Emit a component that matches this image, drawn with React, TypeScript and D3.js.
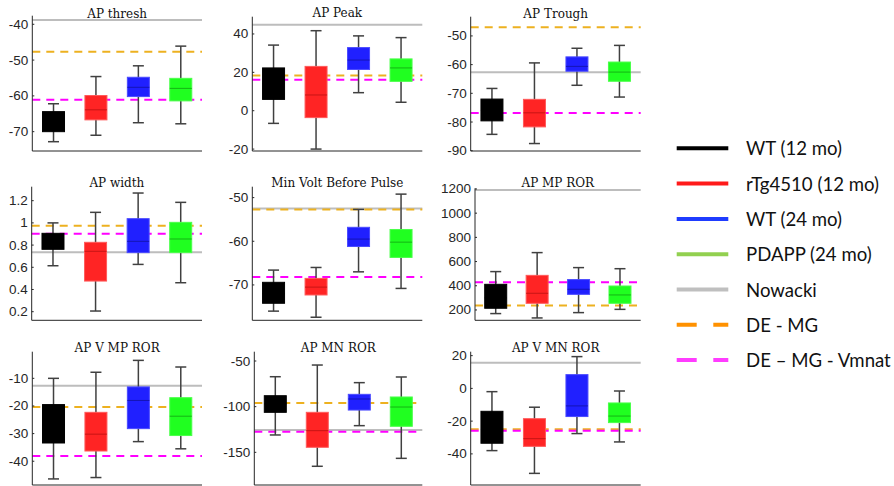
import React from "react";
import * as d3 from "d3";

// ---------- DATA ----------
const groups = ["WT (12 mo)", "rTg4510 (12 mo)", "WT (24 mo)", "PDAPP (24 mo)"];
const panelTitles = [
  "AP thresh", "AP Peak", "AP Trough",
  "AP width", "Min Volt Before Pulse", "AP MP ROR",
  "AP V MP ROR", "AP MN ROR", "AP V MN ROR",
];
// per panel, per group: whisker low, q1, median, q3, whisker high
const whiskerLow = [
  [-72.8, -71, -67.5, -67.8],
  [-6.6, -20, 9.4, 4.4],
  [-84.3, -87.5, -67.2, -71.3],
  [0.614, 0.206, 0.626, 0.461],
  [-76.0, -77.4, -67.0, -70.8],
  [170, 134, 178, 205],
  [-46.4, -45.9, -32.9, -35.5],
  [-131, -165.3, -120.8, -156.6],
  [-38, -51.9, -27.6, -32.7],
];
const q1 = [
  [-70, -66.7, -60.2, -61.4],
  [5.9, -3.6, 21.5, 15.3],
  [-79.6, -81.7, -62.3, -65.8],
  [0.762, 0.476, 0.732, 0.732],
  [-74.2, -72.3, -61.2, -63.7],
  [214, 255, 329, 255],
  [-33.4, -36.3, -28.2, -30.7],
  [-106.2, -144.5, -103.7, -121.5],
  [-33.5, -35.4, -17.2, -20.9],
];
const medians = [
  [-67, -63.9, -57.6, -57.9],
  [14, 8.2, 26.4, 22.3],
  [-76, -76.8, -60.6, -62.6],
  [0.82, 0.744, 0.834, 0.855],
  [-72, -70.5, -59.5, -60.2],
  [300, 338, 371, 324],
  [-27, -30.2, -18, -23.7],
  [-97, -126.3, -91.6, -100.4],
  [-25, -30.7, -10.7, -16.9],
];
const q3 = [
  [-64.4, -59.9, -54.8, -55.1],
  [22.3, 23.1, 32.9, 27],
  [-72, -72.1, -57.3, -59.1],
  [0.906, 0.825, 1.038, 1.005],
  [-69.4, -68.5, -56.8, -57.3],
  [412, 486, 451, 398],
  [-19.5, -22.3, -13.1, -17],
  [-88, -106.2, -86.5, -89.4],
  [-14, -18.5, 8.4, -8.9],
];
const whiskerHigh = [
  [-62.2, -54.6, -51.6, -46.1],
  [34.2, 41.7, 39, 38.1],
  [-68.3, -59.4, -54.3, -53.3],
  [1.0, 1.095, 1.269, 1.185],
  [-66.6, -66.0, -52.7, -49.2],
  [517, 674, 550, 541],
  [-10, -7.8, -3.5, -5.9],
  [-67.2, -54.4, -73.7, -67.5],
  [-2, -11.5, 19.4, -1.6],
];
// reference lines per panel
const nowacki = [-38.8, 44.8, -62.7, 0.735, -52.5, 1192, -12.65, -125.6, 15.7];
const deMg = [-47.65, 18.3, -47, 0.975, -52.7, 236, -20.4, -96, -25];
const deMgVmnat = [-61.1, 16.2, -76.9, 0.903, -68.2, 428.6, -38.1, -127.4, -25.8];
// axis limits & ticks
const yDomains: [number, number][] = [
  [-75.4, -37.6], [-21, 49], [-90.1, -43.3],
  [0.1225, 1.326], [-78.1, -47.5], [114.5, 1205.5],
  [-48.6, -0.36], [-185.8, -39.8], [-59, 22.4],
];
const yTicks = [
  [-70, -60, -50, -40],
  [-20, 0, 20, 40],
  [-90, -80, -70, -60, -50],
  [0.2, 0.4, 0.6, 0.8, 1, 1.2],
  [-70, -60, -50],
  [200, 400, 600, 800, 1000, 1200],
  [-40, -30, -20, -10],
  [-150, -100, -50],
  [-40, -20, 0, 20],
];
const legendLabels = [
  "WT (12 mo)", "rTg4510 (12 mo)", "WT (24 mo)", "PDAPP (24 mo)",
  "Nowacki", "DE - MG", "DE \u2013 MG - Vmnat",
];

// ---------- LAYOUT / STYLE ----------
const layout = [
  { l: 32.3, r: 202, t: 15.7, b: 151, ty: 17.5 },
  { l: 252.3, r: 422.3, t: 16.7, b: 151, ty: 17.3 },
  { l: 470.7, r: 640.7, t: 16.7, b: 151, ty: 17.7 },
  { l: 31.7, r: 202, t: 186.7, b: 320.3, ty: 186.5 },
  { l: 252.3, r: 422.3, t: 186.7, b: 320.3, ty: 187.3 },
  { l: 475, r: 640.7, t: 188.3, b: 320.3, ty: 187.3 },
  { l: 32.3, r: 202, t: 351.7, b: 485, ty: 352.3 },
  { l: 254.3, r: 422.3, t: 351.7, b: 485, ty: 352.3 },
  { l: 470.7, r: 640.7, t: 351.7, b: 485, ty: 352.3 },
];
const boxFill = ["#000000", "#ff2424", "#2020ff", "#20ff20"];
const boxStroke = ["#000000", "#ff5a5a", "#4a4aff", "#4aff4a"];
const medStroke = ["#000000", "#c81414", "#1414b4", "#14b414"];
const legendColors = ["#000000", "#ff1a1a", "#1f3cff", "#92d050", "#bfbfbf", "#ff9100", "#ff3cff"];
const axisColor = "#262626";

function Panel({ i }: { i: number }) {
  const L = layout[i];
  const x = d3.scaleLinear().domain([0.5, 4.5]).range([L.l, L.r]);
  const y = d3.scaleLinear().domain(yDomains[i]).range([L.b, L.t]);
  const bw = 22;
  const cap = 11;
  const fmt = (v: number) => (Math.abs(v) < 1e-9 ? "0" : String(+v.toFixed(2)));
  return (
    <g>
      <text x={(L.l + L.r) / 2} y={L.ty} textAnchor="middle" fontFamily="'DejaVu Serif', serif" fontSize={12} fill="#111">
        {panelTitles[i]}
      </text>
      {/* reference lines */}
      <line x1={L.l} x2={L.r} y1={y(nowacki[i])} y2={y(nowacki[i])} stroke="#bdbdbd" strokeWidth={2} />
      <line x1={L.l} x2={L.r} y1={y(deMg[i])} y2={y(deMg[i])} stroke="#edb120" strokeWidth={2} strokeDasharray="8,6" />
      <line x1={L.l} x2={L.r} y1={y(deMgVmnat[i])} y2={y(deMgVmnat[i])} stroke="#ff00ff" strokeWidth={2} strokeDasharray="8,6" />
      {/* boxes */}
      {groups.map((g, k) => {
        const cx = x(k + 1);
        return (
          <g key={g}>
            <line x1={cx} x2={cx} y1={y(whiskerLow[i][k])} y2={y(whiskerHigh[i][k])} stroke="#404040" strokeWidth={1.5} />
            <line x1={cx - cap / 2} x2={cx + cap / 2} y1={y(whiskerLow[i][k])} y2={y(whiskerLow[i][k])} stroke="#404040" strokeWidth={1.5} />
            <line x1={cx - cap / 2} x2={cx + cap / 2} y1={y(whiskerHigh[i][k])} y2={y(whiskerHigh[i][k])} stroke="#404040" strokeWidth={1.5} />
            <rect x={cx - bw / 2} width={bw} y={y(q3[i][k])} height={y(q1[i][k]) - y(q3[i][k])} fill={boxFill[k]} stroke={boxStroke[k]} strokeWidth={1} />
            <line x1={cx - bw / 2} x2={cx + bw / 2} y1={y(medians[i][k])} y2={y(medians[i][k])} stroke={medStroke[k]} strokeWidth={1} />
          </g>
        );
      })}
      {/* axes */}
      <line x1={L.l} x2={L.l} y1={L.t} y2={L.b} stroke={axisColor} strokeWidth={1} />
      <line x1={L.l} x2={L.r} y1={L.b} y2={L.b} stroke={axisColor} strokeWidth={1} />
      {yTicks[i].map((t) => (
        <g key={t}>
          <line x1={L.l} x2={L.l + 2} y1={y(t)} y2={y(t)} stroke={axisColor} strokeWidth={1} />
          <text x={L.l - 4} y={y(t)} textAnchor="end" dominantBaseline="central" fontFamily="'Liberation Sans', Arial, sans-serif" fontSize={13.5} fill={axisColor}>
            {fmt(t)}
          </text>
        </g>
      ))}
    </g>
  );
}

function Legend() {
  const y0 = 148.3;
  const dy = 35.3;
  return (
    <g>
      {legendLabels.map((lab, k) => {
        const yy = y0 + k * dy;
        const dashed = k >= 5;
        return (
          <g key={lab}>
            <line x1={676.7} x2={728.3} y1={yy} y2={yy} stroke={legendColors[k]} strokeWidth={4}
              strokeDasharray={dashed ? "20,16.6" : undefined} />
            <text x={746} y={yy} dominantBaseline="central" fontFamily="Lato, 'Open Sans', sans-serif" fontSize={18.6} fill="#111">
              {lab}
            </text>
          </g>
        );
      })}
    </g>
  );
}

export default function App() {
  return (
    <svg width={894} height={486} style={{ position: "absolute", left: 0, top: 0, background: "#fff" }}>
      <rect width={894} height={486} fill="#fff" />
      {panelTitles.map((_, i) => (
        <Panel key={i} i={i} />
      ))}
      <Legend />
    </svg>
  );
}
